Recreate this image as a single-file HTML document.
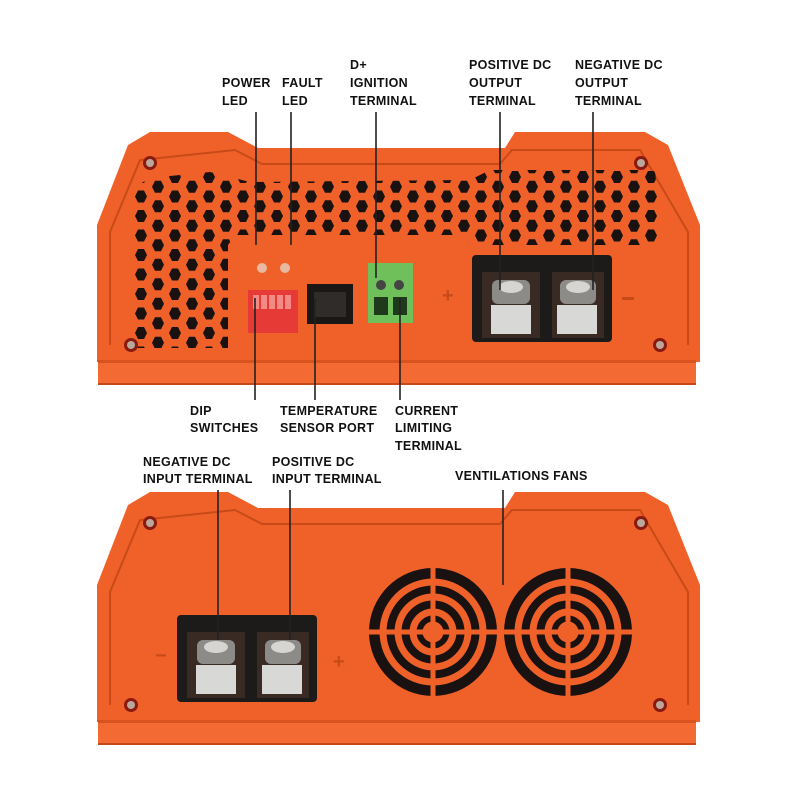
<!DOCTYPE html>
<html><head><meta charset="utf-8"><style>
body{margin:0;background:#fff;width:800px;height:800px;overflow:hidden}
svg text{font-family:"Liberation Sans",sans-serif;font-weight:bold;font-size:12.5px;fill:#111;letter-spacing:0.3px}
</style></head><body>
<svg width="800" height="800" viewBox="0 0 800 800">
<defs>
<pattern id="hex" width="34" height="19.5" patternUnits="userSpaceOnUse" x="134" y="190">
<polygon points="4,0.5 10,0.5 13,6.5 10,12.5 4,12.5 1,6.5" fill="#1a1210"/>
<polygon points="21,-9.25 27,-9.25 30,-3.25 27,2.75 21,2.75 18,-3.25" fill="#1a1210"/>
<polygon points="21,10.25 27,10.25 30,16.25 27,22.25 21,22.25 18,16.25" fill="#1a1210"/>
</pattern>
<clipPath id="hc"><polygon points="130,190 150,178 210,172 250,182 470,180 490,170 655,170 662,245 470,245 465,235 235,235 228,245 228,348 130,348"/></clipPath>
<g id="body">
<polygon points="97,362 97,225 128,145 150,132 228,132 258,148 505,148 515,132 645,132 668,145 700,225 700,362" fill="#ef6129"/>
<polyline points="110,345 110,232 140,160 235,150 262,164 500,164 512,150 640,150 688,232 688,345" fill="none" stroke="#c84a19" stroke-width="2"/>
<rect x="98" y="360" width="598" height="25" fill="#f36b32"/>
<rect x="98" y="360" width="598" height="3" fill="#d9531f"/>
<rect x="98" y="383" width="598" height="2" fill="#c9481a"/>
<circle cx="150" cy="163" r="7" fill="#8a1a10"/><circle cx="150" cy="163" r="4" fill="#b9a79a"/>
<circle cx="641" cy="163" r="7" fill="#8a1a10"/><circle cx="641" cy="163" r="4" fill="#b9a79a"/>
<circle cx="131" cy="345" r="7" fill="#8a1a10"/><circle cx="131" cy="345" r="4" fill="#b9a79a"/>
<circle cx="660" cy="345" r="7" fill="#8a1a10"/><circle cx="660" cy="345" r="4" fill="#b9a79a"/>
</g>
<g id="tblock">
<rect x="472" y="255" width="140" height="87" rx="4" fill="#1d1a1a"/>
<rect x="482" y="272" width="58" height="66" fill="#3a2a24"/>
<rect x="552" y="272" width="52" height="66" fill="#3a2a24"/>
<rect x="492" y="280" width="38" height="24" rx="6" fill="#8d8b88"/>
<ellipse cx="511" cy="287" rx="12" ry="6" fill="#d7d5d2"/>
<rect x="491" y="305" width="40" height="29" fill="#d8d8d6"/>
<rect x="560" y="280" width="36" height="24" rx="6" fill="#8d8b88"/>
<ellipse cx="578" cy="287" rx="12" ry="6" fill="#d7d5d2"/>
<rect x="557" y="305" width="40" height="29" fill="#d8d8d6"/>
</g>
</defs>

<use href="#body"/>
<rect x="0" y="0" width="800" height="800" fill="url(#hex)" clip-path="url(#hc)"/>
<circle cx="262" cy="268" r="5" fill="#e8b8a0"/><circle cx="285" cy="268" r="5" fill="#e8b8a0"/>
<rect x="248" y="290" width="50" height="43" fill="#e53a35"/>
<g fill="#f48a86"><rect x="253" y="295" width="6" height="14"/><rect x="261" y="295" width="6" height="14"/><rect x="269" y="295" width="6" height="14"/><rect x="277" y="295" width="6" height="14"/><rect x="285" y="295" width="6" height="14"/></g>
<rect x="307" y="284" width="46" height="40" fill="#1a1817"/>
<rect x="314" y="292" width="32" height="25" fill="#2f2c2a"/>
<rect x="368" y="263" width="45" height="60" fill="#6fbf5a"/>
<circle cx="381" cy="285" r="5" fill="#444"/><circle cx="399" cy="285" r="5" fill="#444"/>
<rect x="374" y="297" width="14" height="18" fill="#1f3a1a"/><rect x="393" y="297" width="14" height="18" fill="#1f3a1a"/>
<text x="442" y="302" style="fill:#c84a19;font-size:20px">+</text>
<rect x="622" y="297" width="12" height="3" fill="#c84a19"/>
<use href="#tblock"/>

<g transform="translate(0,360)">
<use href="#body"/>
</g>
<g transform="translate(-295,360)"><use href="#tblock"/></g>
<text x="155" y="662" style="fill:#c84a19;font-size:20px">−</text>
<text x="333" y="668" style="fill:#c84a19;font-size:20px">+</text>
<g fill="#1a1210">
<circle cx="433" cy="632" r="64"/><circle cx="568" cy="632" r="64"/>
</g>
<g fill="none" stroke="#ef6129" stroke-width="7">
<circle cx="433" cy="632" r="50"/><circle cx="433" cy="632" r="35"/><circle cx="433" cy="632" r="20"/><circle cx="433" cy="632" r="7"/>
<circle cx="568" cy="632" r="50"/><circle cx="568" cy="632" r="35"/><circle cx="568" cy="632" r="20"/><circle cx="568" cy="632" r="7"/>
<line x1="433" y1="566" x2="433" y2="698" stroke-width="5"/><line x1="367" y1="632" x2="499" y2="632" stroke-width="5"/>
<line x1="568" y1="566" x2="568" y2="698" stroke-width="5"/><line x1="502" y1="632" x2="634" y2="632" stroke-width="5"/>
</g>

<g stroke="#222" stroke-width="1.6">
<line x1="256" y1="112" x2="256" y2="245"/><line x1="291" y1="112" x2="291" y2="245"/>
<line x1="376" y1="112" x2="376" y2="278"/><line x1="500" y1="112" x2="500" y2="290"/>
<line x1="593" y1="112" x2="593" y2="290"/>
<line x1="255" y1="298" x2="255" y2="400"/><line x1="315" y1="298" x2="315" y2="400"/>
<line x1="400" y1="298" x2="400" y2="400"/>
<line x1="218" y1="490" x2="218" y2="640"/><line x1="290" y1="490" x2="290" y2="640"/>
<line x1="503" y1="490" x2="503" y2="585"/>
</g>

<text x="222" y="87">POWER</text><text x="222" y="105">LED</text>
<text x="282" y="87">FAULT</text><text x="282" y="105">LED</text>
<text x="350" y="69">D+</text><text x="350" y="87">IGNITION</text><text x="350" y="105">TERMINAL</text>
<text x="469" y="69">POSITIVE DC</text><text x="469" y="87">OUTPUT</text><text x="469" y="105">TERMINAL</text>
<text x="575" y="69">NEGATIVE DC</text><text x="575" y="87">OUTPUT</text><text x="575" y="105">TERMINAL</text>
<text x="190" y="415">DIP</text><text x="190" y="432">SWITCHES</text>
<text x="280" y="415">TEMPERATURE</text><text x="280" y="432">SENSOR PORT</text>
<text x="395" y="415">CURRENT</text><text x="395" y="432">LIMITING</text><text x="395" y="450">TERMINAL</text>
<text x="143" y="466">NEGATIVE DC</text><text x="143" y="483">INPUT TERMINAL</text>
<text x="272" y="466">POSITIVE DC</text><text x="272" y="483">INPUT TERMINAL</text>
<text x="455" y="480">VENTILATIONS FANS</text>
</svg>
</body></html>
